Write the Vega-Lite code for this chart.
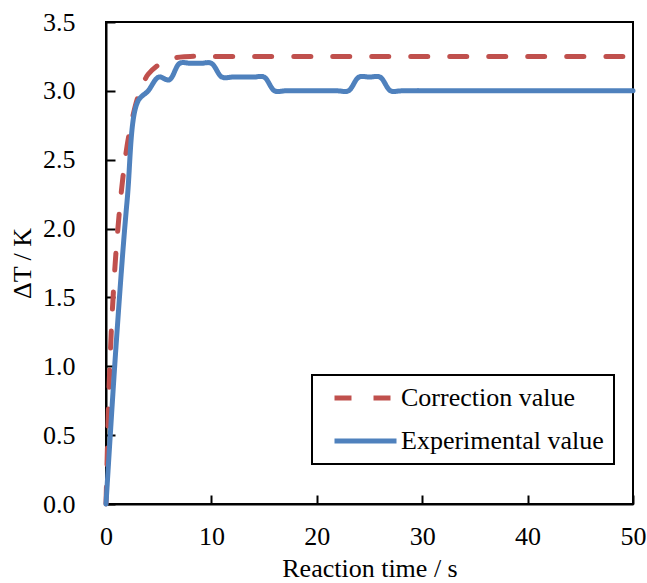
{
  "$schema": "https://vega.github.io/schema/vega-lite/v6.json",
  "autosize": {"type": "none"},
  "padding": {"left": 106, "top": 22, "right": 14, "bottom": 79},
  "width": 527,
  "height": 482,
  "background": "white",
  "config": {
    "view": {"stroke": "black", "strokeWidth": 2},
    "font": "Liberation Serif",
    "axis": {
      "domainColor": "black", "domainWidth": 2,
      "tickColor": "black", "tickWidth": 2, "tickSize": -9, "zindex": 1,
      "labelFont": "Liberation Serif", "labelFontSize": 26, "labelColor": "black",
      "titleFont": "Liberation Serif", "titleFontSize": 26, "titleFontWeight": "normal", "titleColor": "black",
      "grid": false
    },
    "legend": {
      "orient": "none", "legendX": 206, "legendY": 353,
      "strokeColor": "black", "strokeWidth": 2, "fillColor": "white",
      "padding": 10, "symbolOffset": 10, "rowPadding": 17, "clipHeight": 26,
      "labelFont": "Liberation Serif", "labelFontSize": 26, "labelColor": "black",
      "labelOffset": 2, "labelLimit": 400,
      "symbolType": "stroke", "symbolSize": 3844, "symbolStrokeWidth": 5
    }
  },
  "data": {
    "values": [
      {"t": 0, "v": 0, "s": "Correction value"},
      {"t": 0.1, "v": 0.3, "s": "Correction value"},
      {"t": 0.25, "v": 0.75, "s": "Correction value"},
      {"t": 0.5, "v": 1.25, "s": "Correction value"},
      {"t": 0.75, "v": 1.6, "s": "Correction value"},
      {"t": 1, "v": 1.88, "s": "Correction value"},
      {"t": 1.5, "v": 2.3, "s": "Correction value"},
      {"t": 2, "v": 2.6, "s": "Correction value"},
      {"t": 2.5, "v": 2.8, "s": "Correction value"},
      {"t": 3, "v": 2.95, "s": "Correction value"},
      {"t": 3.5, "v": 3.05, "s": "Correction value"},
      {"t": 4, "v": 3.12, "s": "Correction value"},
      {"t": 5, "v": 3.19, "s": "Correction value"},
      {"t": 6, "v": 3.23, "s": "Correction value"},
      {"t": 7, "v": 3.245, "s": "Correction value"},
      {"t": 8, "v": 3.25, "s": "Correction value"},
      {"t": 10, "v": 3.25, "s": "Correction value"},
      {"t": 20, "v": 3.25, "s": "Correction value"},
      {"t": 30, "v": 3.25, "s": "Correction value"},
      {"t": 40, "v": 3.25, "s": "Correction value"},
      {"t": 50, "v": 3.25, "s": "Correction value"},
      {"t": 0, "v": 0, "s": "Experimental value"},
      {"t": 1, "v": 1.2, "s": "Experimental value"},
      {"t": 2, "v": 2.2, "s": "Experimental value"},
      {"t": 3, "v": 2.92, "s": "Experimental value"},
      {"t": 4, "v": 3.0, "s": "Experimental value"},
      {"t": 5, "v": 3.1, "s": "Experimental value"},
      {"t": 6, "v": 3.08, "s": "Experimental value"},
      {"t": 7, "v": 3.2, "s": "Experimental value"},
      {"t": 8, "v": 3.2, "s": "Experimental value"},
      {"t": 9, "v": 3.2, "s": "Experimental value"},
      {"t": 10, "v": 3.2, "s": "Experimental value"},
      {"t": 11, "v": 3.1, "s": "Experimental value"},
      {"t": 12, "v": 3.1, "s": "Experimental value"},
      {"t": 13, "v": 3.1, "s": "Experimental value"},
      {"t": 14, "v": 3.1, "s": "Experimental value"},
      {"t": 15, "v": 3.1, "s": "Experimental value"},
      {"t": 16, "v": 3.0, "s": "Experimental value"},
      {"t": 17, "v": 3.0, "s": "Experimental value"},
      {"t": 18, "v": 3.0, "s": "Experimental value"},
      {"t": 19, "v": 3.0, "s": "Experimental value"},
      {"t": 20, "v": 3.0, "s": "Experimental value"},
      {"t": 21, "v": 3.0, "s": "Experimental value"},
      {"t": 22, "v": 3.0, "s": "Experimental value"},
      {"t": 23, "v": 3.0, "s": "Experimental value"},
      {"t": 24, "v": 3.1, "s": "Experimental value"},
      {"t": 25, "v": 3.1, "s": "Experimental value"},
      {"t": 26, "v": 3.1, "s": "Experimental value"},
      {"t": 27, "v": 3.0, "s": "Experimental value"},
      {"t": 28, "v": 3.0, "s": "Experimental value"},
      {"t": 30, "v": 3.0, "s": "Experimental value"},
      {"t": 35, "v": 3.0, "s": "Experimental value"},
      {"t": 40, "v": 3.0, "s": "Experimental value"},
      {"t": 45, "v": 3.0, "s": "Experimental value"},
      {"t": 50, "v": 3.0, "s": "Experimental value"}
    ]
  },
  "mark": {"type": "line", "interpolate": "catmull-rom", "strokeWidth": 5, "strokeCap": "round"},
  "encoding": {
    "x": {
      "field": "t", "type": "quantitative",
      "scale": {"domain": [0, 50], "nice": false},
      "axis": {"values": [0, 10, 20, 30, 40, 50], "labelPadding": 28, "title": "Reaction time / s", "titlePadding": 6, "labelFlush": false}
    },
    "y": {
      "field": "v", "type": "quantitative",
      "scale": {"domain": [0, 3.5], "nice": false},
      "axis": {"values": [0, 0.5, 1, 1.5, 2, 2.5, 3, 3.5], "format": ".1f", "labelPadding": 40, "title": "ΔT / K", "titlePadding": 7, "labelFlush": false}
    },
    "color": {
      "field": "s", "type": "nominal",
      "scale": {"domain": ["Correction value", "Experimental value"], "range": ["#C0504D", "#4F81BD"]},
      "legend": {"title": null}
    },
    "strokeDash": {
      "field": "s", "type": "nominal",
      "scale": {"domain": ["Correction value", "Experimental value"], "range": [[17, 22], [1, 0]]},
      "legend": {"title": null}
    }
  }
}
